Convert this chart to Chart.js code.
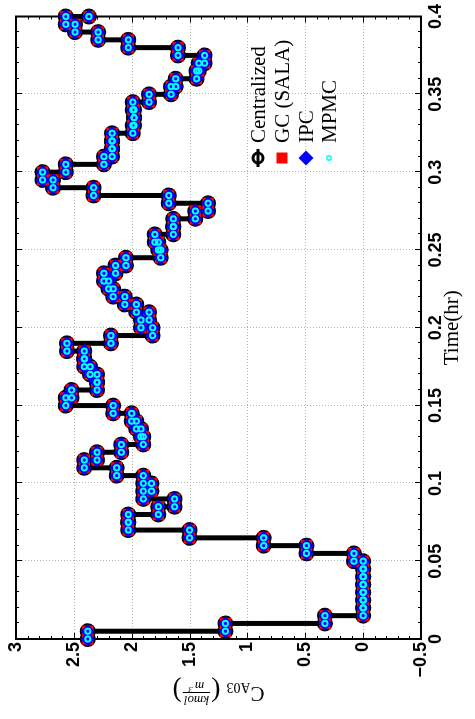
<!DOCTYPE html>
<html lang="en">
  <head>
    <meta charset="UTF-8" />
    <meta name="viewport" content="width=device-width, initial-scale=1.0" />
    <title>CA03 response</title>
    <style>
      html,
      body {
        margin: 0;
        padding: 0;
        background: #fff;
        overflow: hidden;
      }
      /* the plot is laid out landscape, then turned a quarter turn to portrait */
      #turn {
        position: absolute;
        left: 0;
        top: 0;
        width: 719px;
        height: 475px;
        transform-origin: 0 0;
        transform: translate(0, 719px) rotate(-90deg);
      }
    </style>
  </head>
  <body>
    <div id="turn"><canvas id="myChart" width="719" height="475"></canvas></div>
    <script src="https://cdn.jsdelivr.net/npm/chart.js"></script>
    <script>
      const seriesNames = ["Centralized", "GC (SALA)", "IPC", "MPMC"];

      // controller sample period (hr)
      const sampleTime = 0.005;

      // C_A03 held over each sample (kmol/m^3); all four schemes land on the same profile
      const cA03 = [
        2.38, 1.19, 0.33, 0, 0, 0, 0, 0, 0, 0,
        0.08, 0.49, 0.86, 1.5, 2.03, 2.03, 1.77, 1.63, 1.9, 1.83,
        1.9, 2.13, 2.41, 2.3, 2.09, 1.9, 1.92, 1.96, 2.0, 2.16,
        2.57, 2.52, 2.3, 2.3, 2.36, 2.41, 2.41, 2.56, 2.18, 1.82,
        1.92, 1.85, 1.96, 2.06, 2.16, 2.2, 2.24, 2.14, 2.05, 1.75,
        1.77, 1.8, 1.64, 1.64, 1.45, 1.34, 1.68, 2.33, 2.68, 2.77,
        2.57, 2.24, 2.17, 2.17, 2.17, 1.99, 1.98, 1.98, 1.99, 1.85,
        1.66, 1.62, 1.44, 1.42, 1.37, 1.6, 2.03, 2.29, 2.49, 2.57,
        2.37,
      ];

      const timeTicks = [0, 0.05, 0.1, 0.15, 0.2, 0.25, 0.3, 0.35, 0.4];
      const concTicks = [-0.5, 0, 0.5, 1, 1.5, 2, 2.5, 3];

      // stairs vertices: each sample gives a corner at its start and its end
      const stairs = [];
      cA03.forEach((c, k) => {
        const t = k * sampleTime;
        if (k > 0) stairs.push({ x: t, y: cA03[k - 1] });
        stairs.push({ x: t, y: c });
      });

      const tickFont = { family: "'Liberation Sans', Arial, sans-serif", size: 18, weight: "bold" };
      const serif = "'Liberation Serif', 'Times New Roman', serif";

      // dotted grid, box and inward tick marks
      const frame = {
        id: "frame",
        beforeDatasetsDraw(chart) {
          const { ctx, chartArea: a } = chart;
          const x = chart.scales.x;
          const y = chart.scales.y;
          ctx.save();
          ctx.strokeStyle = "#b3b3b3";
          ctx.lineWidth = 1;
          ctx.setLineDash([1, 2]);
          ctx.beginPath();
          timeTicks.forEach((v) => {
            const px = Math.round(x.getPixelForValue(v)) + 0.5;
            ctx.moveTo(px, a.top);
            ctx.lineTo(px, a.bottom);
          });
          concTicks.forEach((v) => {
            const py = Math.round(y.getPixelForValue(v)) + 0.5;
            ctx.moveTo(a.left, py);
            ctx.lineTo(a.right, py);
          });
          ctx.stroke();
          ctx.setLineDash([]);

          ctx.strokeStyle = "#000";
          ctx.lineWidth = 1;
          ctx.beginPath();
          for (let i = 0; i <= 40; i++) {
            const px = Math.round(x.getPixelForValue(i * 0.01)) + 0.5;
            const len = i % 5 ? 3 : 6;
            ctx.moveTo(px, a.bottom);
            ctx.lineTo(px, a.bottom - len);
            ctx.moveTo(px, a.top);
            ctx.lineTo(px, a.top + len);
          }
          for (let i = 0; i <= 35; i++) {
            const py = Math.round(y.getPixelForValue(-0.5 + i * 0.1)) + 0.5;
            const len = i % 5 ? 3 : 6;
            ctx.moveTo(a.left, py);
            ctx.lineTo(a.left + len, py);
            ctx.moveTo(a.right, py);
            ctx.lineTo(a.right - len, py);
          }
          ctx.stroke();

          ctx.lineWidth = 2;
          ctx.strokeRect(a.left, a.top, a.right - a.left, a.bottom - a.top);
          ctx.restore();
        },
      };

      // axis titles: Time(hr) and C_A03 (kmol / m^3)
      const titles = {
        id: "titles",
        afterDraw(chart) {
          const { ctx, chartArea: a } = chart;
          ctx.save();
          ctx.fillStyle = "#000";
          ctx.font = "21px " + serif;
          ctx.textAlign = "center";
          ctx.textBaseline = "middle";
          ctx.fillText("Time(hr)", (a.left + a.right) / 2, 452);

          ctx.translate(25, (a.top + a.bottom) / 2);
          ctx.rotate(-Math.PI / 2);
          ctx.textAlign = "left";
          ctx.textBaseline = "alphabetic";
          const big = "21px " + serif;
          const sub = "14px " + serif;
          const frac = "italic 13px " + serif;
          const paren = "28px " + serif;
          ctx.font = big;
          const wC = ctx.measureText("C").width;
          ctx.font = sub;
          const wSub = ctx.measureText("A03").width;
          ctx.font = paren;
          const wP = ctx.measureText("(").width;
          ctx.font = frac;
          const wNum = ctx.measureText("kmol").width;
          const wDen = ctx.measureText("m").width + 6;
          const wF = Math.max(wNum, wDen) + 2;
          const gap = 6;
          const total = wC + wSub + gap + wP * 2 + wF + 2;
          let cx = -total / 2;
          const base = 7;
          ctx.font = big;
          ctx.fillText("C", cx, base);
          cx += wC;
          ctx.font = sub;
          ctx.fillText("A03", cx, base + 4);
          cx += wSub + gap;
          ctx.font = paren;
          ctx.fillText("(", cx, base + 4);
          cx += wP + 1;
          const axis = base - 6;
          ctx.fillRect(cx, axis, wF, 1);
          ctx.font = frac;
          ctx.textAlign = "center";
          ctx.fillText("kmol", cx + wF / 2, axis - 3);
          ctx.fillText("m", cx + wF / 2 - 3, axis + 11);
          ctx.font = "italic 9px " + serif;
          ctx.fillText("3", cx + wF / 2 + 6, axis + 6);
          ctx.textAlign = "left";
          cx += wF + 1;
          ctx.font = paren;
          ctx.fillText(")", cx, base + 4);
          ctx.restore();
        },
      };

      // legend inside the axes, drawn without a box
      const legendBox = {
        id: "legendBox",
        afterDraw(chart) {
          const { ctx, chartArea: a } = chart;
          const sx = a.left + 481;
          const tx = a.left + 496;
          const rows = [a.top + 242, a.top + 266, a.top + 290, a.top + 313];
          ctx.save();
          ctx.font = "21px " + serif;
          ctx.textBaseline = "middle";
          ctx.fillStyle = "#000";
          seriesNames.forEach((n, i) => ctx.fillText(n, tx, rows[i] + 1));

          // Centralized: line with open circle
          ctx.strokeStyle = "#000";
          ctx.lineWidth = 3;
          ctx.beginPath();
          ctx.moveTo(sx - 9, rows[0]);
          ctx.lineTo(sx + 9, rows[0]);
          ctx.stroke();
          ctx.beginPath();
          ctx.arc(sx, rows[0], 5, 0, Math.PI * 2);
          ctx.stroke();
          // GC (SALA): red square
          ctx.fillStyle = "#ff0000";
          ctx.fillRect(sx - 5.5, rows[1] - 5.5, 11, 11);
          // IPC: blue diamond
          ctx.fillStyle = "#0000ff";
          ctx.beginPath();
          ctx.moveTo(sx - 7.5, rows[2]);
          ctx.lineTo(sx, rows[2] - 7.5);
          ctx.lineTo(sx + 7.5, rows[2]);
          ctx.lineTo(sx, rows[2] + 7.5);
          ctx.closePath();
          ctx.fill();
          // MPMC: small cyan circle
          ctx.strokeStyle = "#00ffff";
          ctx.lineWidth = 1.6;
          ctx.beginPath();
          ctx.arc(sx, rows[3], 2.2, 0, Math.PI * 2);
          ctx.stroke();
          ctx.restore();
        },
      };

      const ctx = document.getElementById("myChart").getContext("2d");

      const myChart = new Chart(ctx, {
        type: "scatter",
        data: {
          datasets: [
            {
              label: seriesNames[0],
              data: stairs,
              showLine: true,
              borderColor: "#000000",
              borderWidth: 5,
              pointStyle: "circle",
              pointRadius: 6.4,
              pointBorderWidth: 3.2,
              pointBorderColor: "#000000",
              pointBackgroundColor: "rgba(0,0,0,0)",
              clip: false,
              order: 4,
            },
            {
              label: seriesNames[1],
              data: stairs,
              pointStyle: "rect",
              pointRadius: 8,
              pointBorderWidth: 0,
              pointBackgroundColor: "#ff0000",
              clip: false,
              order: 3,
            },
            {
              label: seriesNames[2],
              data: stairs,
              pointStyle: "rectRot",
              pointRadius: 7.2,
              pointBorderWidth: 0,
              pointBackgroundColor: "#0000ff",
              clip: false,
              order: 2,
            },
            {
              label: seriesNames[3],
              data: stairs,
              pointStyle: "circle",
              pointRadius: 2.6,
              pointBorderWidth: 2,
              pointBorderColor: "#00ffff",
              pointBackgroundColor: "rgba(0,0,0,0)",
              clip: false,
              order: 1,
            },
          ],
        },
        options: {
          responsive: false,
          animation: false,
          events: [],
          layout: { padding: { top: 16, right: 15, left: 0, bottom: 0 } },
          plugins: {
            legend: { display: false },
            tooltip: { enabled: false },
          },
          scales: {
            x: {
              type: "linear",
              min: 0,
              max: 0.4,
              afterBuildTicks: (s) => {
                s.ticks = timeTicks.map((v) => ({ value: v }));
              },
              afterFit: (s) => {
                s.height = 54;
              },
              grid: { display: false, drawTicks: false, tickLength: 0 },
              border: { display: false },
              ticks: {
                font: tickFont,
                color: "#000",
                padding: 4,
                maxRotation: 0,
                autoSkip: false,
                callback: (v) => String(+v.toFixed(2)),
              },
            },
            y: {
              type: "linear",
              min: -0.5,
              max: 3,
              afterBuildTicks: (s) => {
                s.ticks = concTicks.map((v) => ({ value: v }));
              },
              afterFit: (s) => {
                s.width = 80;
              },
              grid: { display: false, drawTicks: false, tickLength: 0 },
              border: { display: false },
              ticks: {
                font: tickFont,
                color: "#000",
                padding: 3,
                autoSkip: false,
                callback: (v) => String(+v.toFixed(1)).replace("-", "\u2212"),
              },
            },
          },
        },
        plugins: [frame, titles, legendBox],
      });
    </script>
  </body>
</html>
